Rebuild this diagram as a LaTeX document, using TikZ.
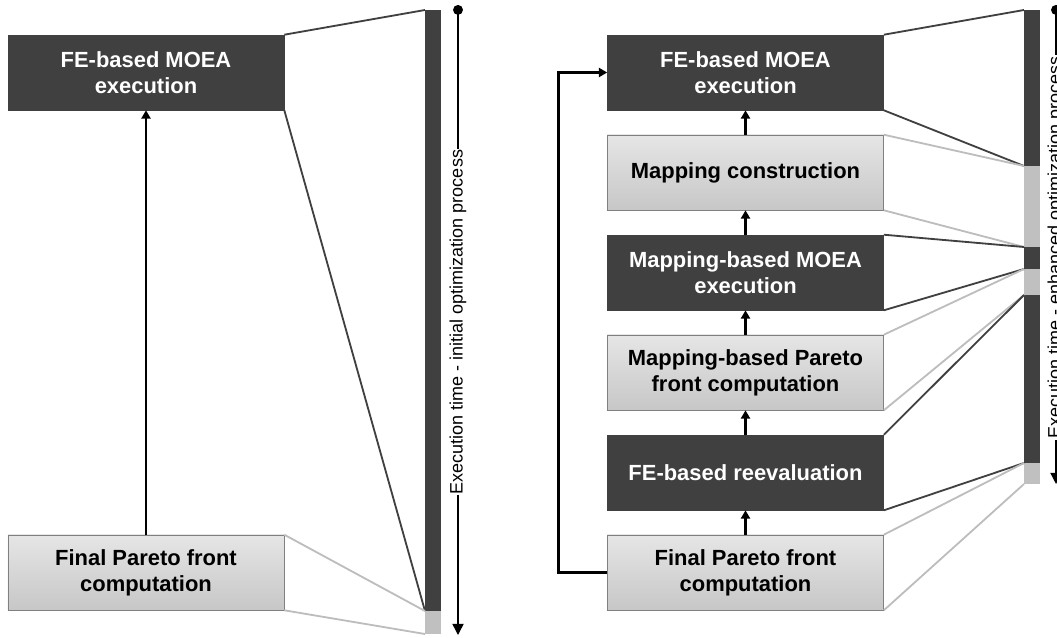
\documentclass[tikz,border=0pt]{standalone}
\usepackage{fontspec}
\setmainfont{Liberation Sans}
\usepackage{xcolor}
\usetikzlibrary{arrows.meta}

\definecolor{darkgrey}{HTML}{404040}
\definecolor{lightgrey}{HTML}{C0C0C0}
\definecolor{lineGrey}{HTML}{BDBDBD}
\definecolor{edgegrey}{HTML}{808080}
\newcommand{\boxfont}{\fontsize{15.6}{18.5}\selectfont\bfseries}
\newcommand{\axisfont}{\fontsize{12.8}{14}\selectfont}

\begin{document}
\begin{tikzpicture}[x=0.025cm,y=-0.025cm,
  darkstep/.style={draw=darkgrey,fill=darkgrey,text=white,minimum width=6.9cm,minimum height=1.875cm,inner sep=0pt,align=center,font=\boxfont},
  lightstep/.style={draw=edgegrey,top color=black!10,bottom color=black!22,text=black,minimum width=6.9cm,minimum height=1.875cm,inner sep=0pt,align=center,font=\boxfont},
  darkline/.style={draw=darkgrey,line width=1.3pt},
  lightline/.style={draw=lineGrey,line width=1.3pt},
  flow/.style={line width=1.9pt,-{Triangle[length=6pt,width=6.5pt]}},
  timeaxis/.style={line width=1pt,{Circle[length=7pt]}-{Triangle[length=8pt,width=8pt]}},
  timelabel/.style={rotate=90,fill=white,inner sep=1pt,font=\axisfont}]
\useasboundingbox (0,0) rectangle (1057,637);

% initial optimization process
\node at (146,72.5) [darkstep] (lfe) {FE-based MOEA\\execution};
\node at (146,572.5) [lightstep] (lfp) {Final Pareto front\\computation};
\draw[flow] (lfp) -- (lfe);

\coordinate (l0) at (425,10);
\coordinate (l1) at (425,611);
\coordinate (l2) at (425,634);
\fill[darkgrey] (l0) rectangle (441,611);
\fill[lightgrey] (l1) rectangle (441,634);
\draw[darkline] (lfe.north east) -- (l0);
\draw[darkline] (lfe.south east) -- (l1);
\draw[lightline] (lfp.north east) -- (l1);
\draw[lightline] (lfp.south east) -- (l2);

\coordinate (ltop) at (458,5);
\coordinate (lbot) at (458,635);
\draw[timeaxis] (ltop) -- (lbot);
\node at (458,322) [timelabel] (ltime) {Execution time - initial optimization process};

% enhanced optimization process
\node at (745.5,72.5) [darkstep] (rfe) {FE-based MOEA\\execution};
\node at (745.5,172.5) [lightstep] (rmc) {Mapping construction};
\node at (745.5,272.5) [darkstep] (rmm) {Mapping-based MOEA\\execution};
\node at (745.5,372.5) [lightstep] (rmp) {Mapping-based Pareto\\front computation};
\node at (745.5,472.5) [darkstep] (rre) {FE-based reevaluation};
\node at (745.5,572.5) [lightstep] (rfp) {Final Pareto front\\computation};
\foreach \a/\b in {rmc/rfe,rmm/rmc,rmp/rmm,rre/rmp,rfp/rre}
  \draw[flow] (\a) -- (\b);
\draw[flow] (rfp.west) -- ++(-49,0) |- (rfe.west);

\coordinate (r0) at (1024,10);
\coordinate (r1) at (1024,166);
\coordinate (r2) at (1024,247);
\coordinate (r3) at (1024,269);
\coordinate (r4) at (1024,295);
\coordinate (r5) at (1024,463);
\coordinate (r6) at (1024,484);
\fill[darkgrey] (r0) rectangle (1040,166);
\fill[lightgrey] (r1) rectangle (1040,247);
\fill[darkgrey] (r2) rectangle (1040,269);
\fill[lightgrey] (r3) rectangle (1040,295);
\fill[darkgrey] (r4) rectangle (1040,463);
\fill[lightgrey] (r5) rectangle (1040,484);

\draw[darkline] (rfe.north east) -- (r0);
\draw[darkline] (rfe.south east) -- (r1);
\draw[lightline] (rmc.north east) -- (r1);
\draw[lightline] (rmc.south east) -- (r2);
\draw[darkline] (rmm.north east) -- (r2);
\draw[darkline] (rmm.south east) -- (r3);
\draw[lightline] (rmp.north east) -- (r3);
\draw[lightline] (rmp.south east) -- (r4);
\draw[darkline] (rre.north east) -- (r4);
\draw[darkline] (rre.south east) -- (r5);
\draw[lightline] (rfp.north east) -- (r5);
\draw[lightline] (rfp.south east) -- (r6);

\coordinate (rtop) at (1056,5);
\coordinate (rbot) at (1056,484);
\draw[timeaxis] (rtop) -- (rbot);
\node at (1056,247.5) [timelabel] (rtime) {Execution time - enhanced optimization process};
\end{tikzpicture}
\end{document}
